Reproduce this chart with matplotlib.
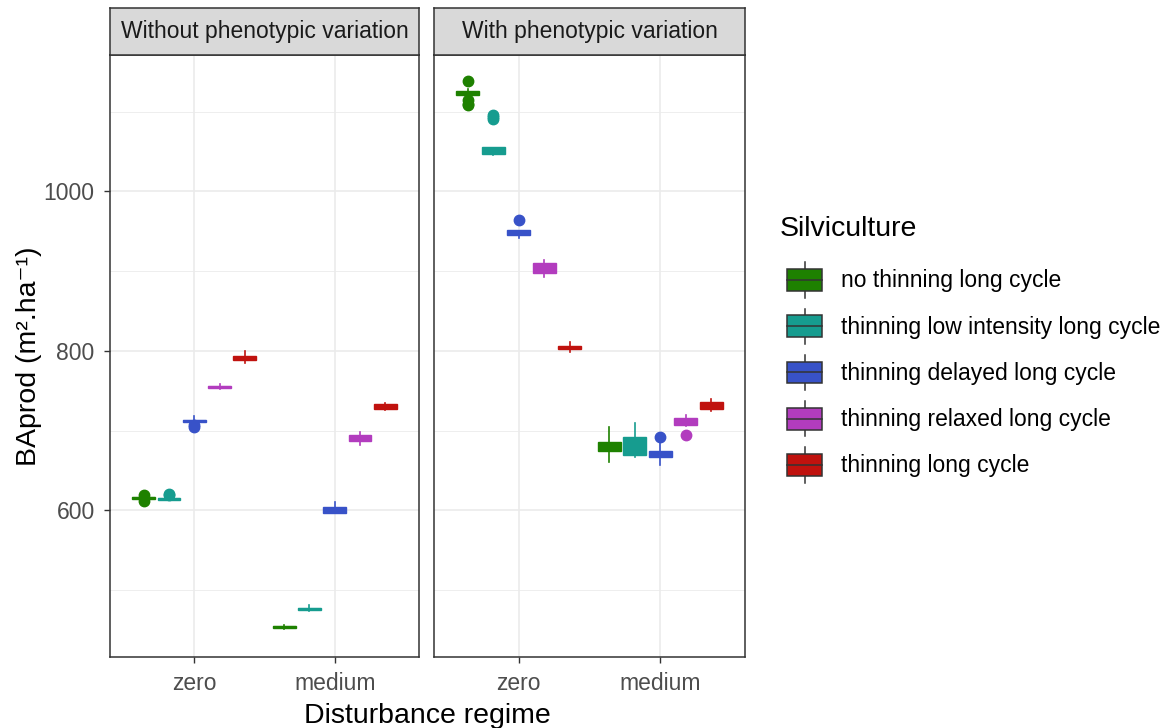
import matplotlib.pyplot as plt
from matplotlib.legend_handler import HandlerBase
from matplotlib.patches import Patch, Rectangle
from matplotlib.lines import Line2D

plt.rcParams['font.family'] = ['Liberation Sans', 'DejaVu Sans']

facets = ["Without phenotypic variation", "With phenotypic variation"]
regimes = ["zero", "medium"]
silvi = ["no thinning long cycle", "thinning low intensity long cycle",
         "thinning delayed long cycle", "thinning relaxed long cycle",
         "thinning long cycle"]
colors = ["#1E8100", "#169C8F", "#3852C8", "#B23CBE", "#C0120E"]

# [facet][regime][silviculture]
med = [[[615.5, 614.5, 712, 754.5, 791], [453.5, 476, 600, 690, 729]],
       [[1123, 1051, 948, 904, 804], [680, 680, 671, 711, 732]]]
q1 = [[[614.5, 613.5, 710.5, 753.5, 789], [452, 475, 597, 687, 727]],
      [[1121, 1047, 945, 898, 802], [674, 669, 667, 707, 727]]]
q3 = [[[616.5, 615.5, 713.5, 755.5, 794], [455, 477.5, 604, 694, 733]],
      [[1126, 1055, 951, 910, 806], [686, 692, 674, 716, 736]]]
lo = [[[613, 612.5, 709, 752.5, 785], [451, 474, 596, 682, 726]],
      [[1119, 1045, 941, 892, 798], [661, 667, 657, 706, 725]]]
hi = [[[618, 616.5, 718, 758, 800], [456, 481, 610, 698, 735]],
      [[1128, 1056, 952, 914, 811], [704, 709, 684, 719, 739]]]
fliers = [[[[619, 612], [619, 620], [705, 707], [], []], [[], [], [], [], []]],
          [[[1138, 1115, 1110, 1108], [1093, 1096, 1091], [964], [], []],
           [[], [], [692], [694], []]]]


class BoxKey(HandlerBase):
    def create_artists(self, legend, orig_handle, xdescent, ydescent,
                       width, height, fontsize, trans):
        fc = orig_handle.get_facecolor()
        x0, y0 = -xdescent, -ydescent
        bh = height * 0.62
        by = y0 + (height - bh) / 2
        xm = x0 + width / 2
        wl = Line2D([xm, xm], [y0, y0 + height], color="#333333", lw=1.1, transform=trans)
        box = Rectangle((x0, by), width, bh, facecolor=fc, edgecolor="#333333", lw=1.1, transform=trans)
        ml = Line2D([x0, x0 + width], [by + bh / 2, by + bh / 2], color="#333333", lw=1.1, transform=trans)
        return [wl, box, ml]


fig = plt.figure(figsize=(11.68, 7.28), dpi=100)
W, H = 1168, 728
panels = [(110, 309), (434, 311)]
pb, pt = 657, 55
offsets = [-0.36, -0.18, 0.0, 0.18, 0.36]

for f, (px, pw) in enumerate(panels):
    ax = fig.add_axes([px / W, (H - pb) / H, pw / W, (pb - pt) / H])
    for r in range(2):
        for s in range(5):
            st = dict(med=med[f][r][s], q1=q1[f][r][s], q3=q3[f][r][s],
                      whislo=lo[f][r][s], whishi=hi[f][r][s], fliers=fliers[f][r][s])
            c = colors[s]
            ax.bxp([st], positions=[r + 1 + offsets[s]], widths=0.162,
                   patch_artist=True, showcaps=False,
                   boxprops=dict(facecolor=c, edgecolor=c, lw=1),
                   medianprops=dict(color=c, lw=1.5),
                   whiskerprops=dict(color=c, lw=1.2),
                   flierprops=dict(marker="o", markerfacecolor=c, markeredgecolor=c, markersize=7.5))
    ax.set_xlim(0.4, 2.6)
    ax.set_ylim(416, 1171)
    ax.set_xticks([1, 2])
    ax.set_xticklabels(regimes)
    ax.set_yticks([600, 800, 1000])
    ax.set_yticks([500, 700, 900, 1100], minor=True)
    ax.grid(True, which="major", color="#EBEBEB", lw=1.2)
    ax.grid(True, which="minor", axis="y", color="#EBEBEB", lw=0.6)
    ax.set_axisbelow(True)
    ax.tick_params(axis="both", which="major", length=4.5, width=1, color="#333333",
                   labelsize=16.5, labelcolor="#4D4D4D", pad=6.5)
    ax.tick_params(axis="y", which="minor", length=0)
    for sp in ax.spines.values():
        sp.set_color("#333333")
        sp.set_linewidth(1.1)
    if f == 1:
        ax.set_yticklabels([])
        ax.tick_params(axis="y", length=0)
    else:
        ax.set_ylabel("BAprod (m².ha⁻¹)", fontsize=20.5, color="black", labelpad=1)

    sax = fig.add_axes([px / W, (H - pt) / H, pw / W, 47 / H])
    sax.set_facecolor("#D9D9D9")
    sax.set_xticks([])
    sax.set_yticks([])
    for sp in sax.spines.values():
        sp.set_color("#333333")
        sp.set_linewidth(1.1)
    sax.text(0.5, 0.5, facets[f], ha="center", va="center", fontsize=16.5,
             color="#1A1A1A", transform=sax.transAxes)

fig.text(427 / W, 1 - 716 / H, "Disturbance regime", ha="center", va="center", fontsize=20.5)

fig.text(780 / W, 1 - 229 / H, "Silviculture", ha="left", va="center", fontsize=20.5)
handles = [Patch(facecolor=c) for c in colors]
leg = fig.legend(handles, silvi, loc="center left", bbox_to_anchor=(769 / W, 1 - 372.5 / H),
                 frameon=False, fontsize=16.5,
                 handler_map={Patch: BoxKey()}, handlelength=1.53, handleheight=2.0,
                 labelspacing=0.47, handletextpad=0.8, borderpad=0.3)

fig.savefig("out.png", dpi=100)
